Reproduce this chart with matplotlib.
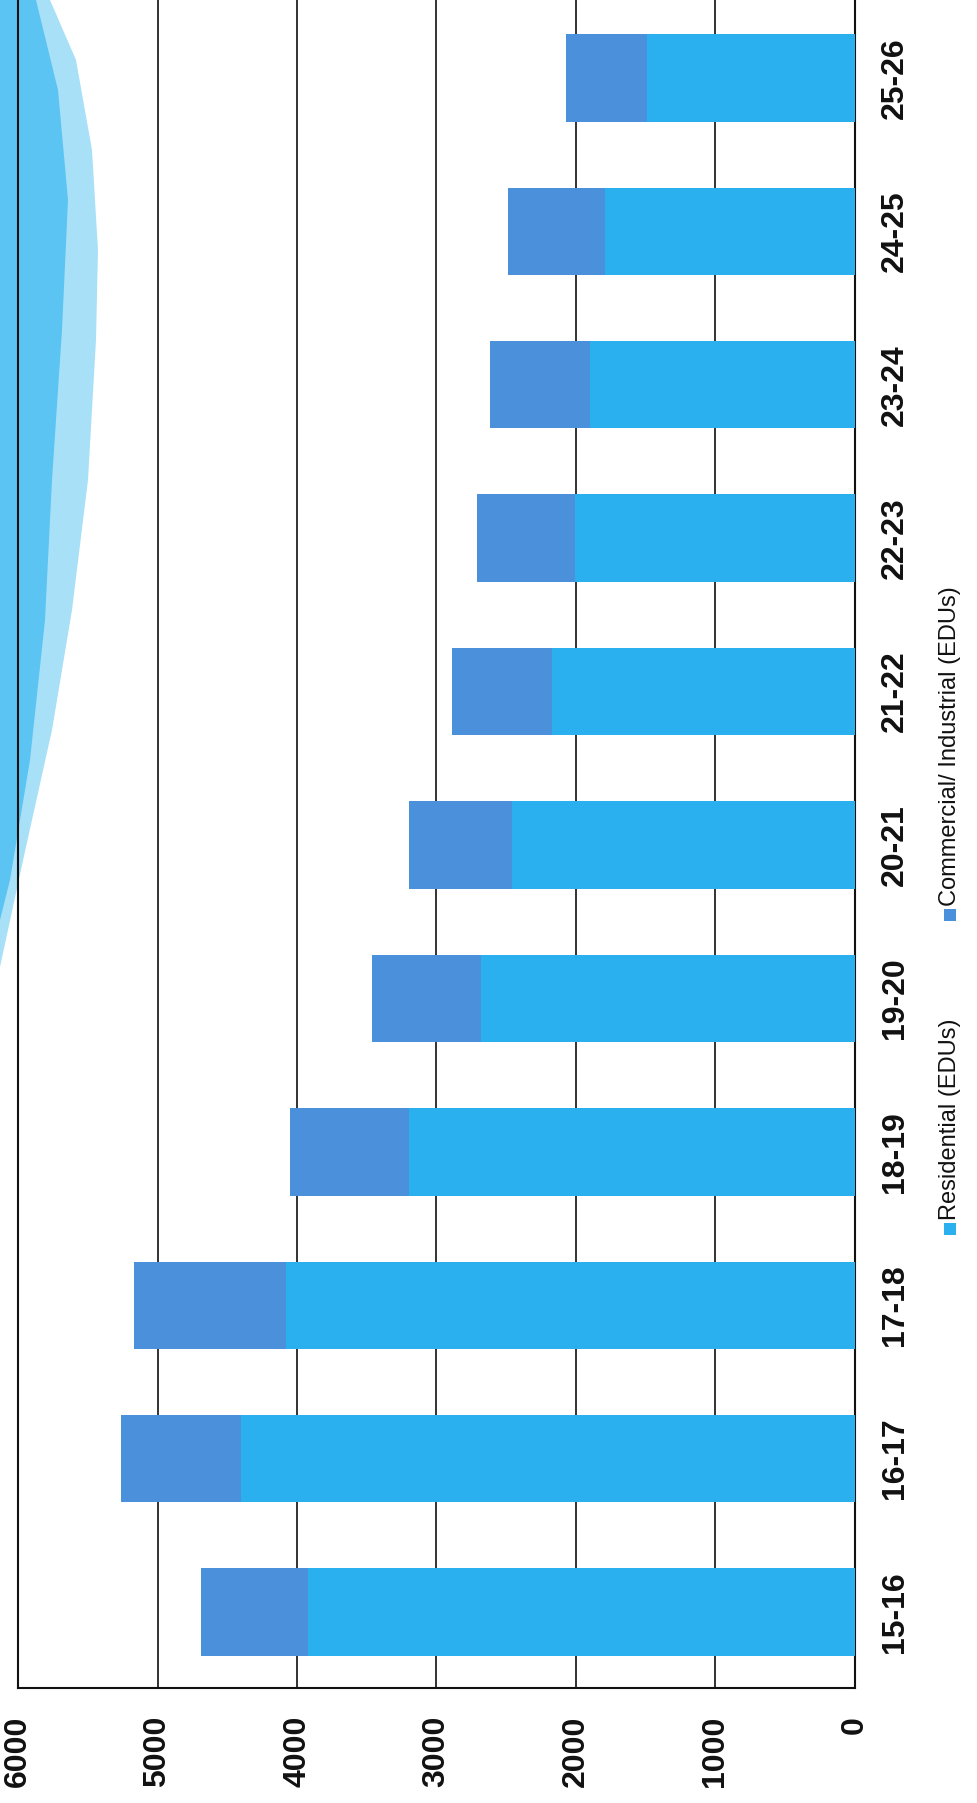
import matplotlib
matplotlib.use('Agg')
import matplotlib.pyplot as plt
from matplotlib.patches import Polygon, Rectangle

plt.rcParams['font.family'] = ['Liberation Sans', 'DejaVu Sans']

# ---- data ----
categories = ['15-16', '16-17', '17-18', '18-19', '19-20', '20-21',
              '21-22', '22-23', '23-24', '24-25', '25-26']
residential = [3920, 4400, 4080, 3200, 2680, 2460, 2170, 2010, 1900, 1790, 1490]
commercial = [770, 860, 1090, 850, 780, 740, 720, 700, 720, 700, 580]
value_ticks = [0, 1000, 2000, 3000, 4000, 5000, 6000]
series_names = ['Residential (EDUs)', 'Commercial/ Industrial (EDUs)']

RES_COLOR = '#2AAFEF'
COM_COLOR = '#4A90DA'

W, H = 978, 1803
fig = plt.figure(figsize=(W / 100, H / 100), dpi=100)
fig.patch.set_facecolor('white')


def fx(px):
    return px / W


def fy(py):
    return 1 - py / H


# decorative swoosh at top-left (slide background)
outer = [(0, 0), (50, 0), (76, 60), (92, 150), (98, 250), (96, 340), (88, 480),
         (72, 610), (52, 730), (22, 865), (0, 967)]
inner = [(0, 0), (36, 0), (58, 90), (68, 200), (62, 330), (52, 480),
         (45, 620), (30, 760), (10, 880), (0, 920)]
fig.add_artist(Polygon([(fx(x), fy(y)) for x, y in outer], closed=True,
                       transform=fig.transFigure, facecolor='#A8E0F8',
                       edgecolor='none', zorder=0))
fig.add_artist(Polygon([(fx(x), fy(y)) for x, y in inner], closed=True,
                       transform=fig.transFigure, facecolor='#5CC4F2',
                       edgecolor='none', zorder=0))

ax_left, ax_right, ax_bottom = 18, 855, 1688
ax = fig.add_axes([fx(ax_left), fy(ax_bottom), fx(ax_right) - fx(ax_left),
                   1 - fy(ax_bottom)])
ax.set_facecolor('none')

ypos = list(range(len(categories)))
ax.barh(ypos, residential, height=0.57, color=RES_COLOR, zorder=3,
        label=series_names[0])
ax.barh(ypos, commercial, left=residential, height=0.57, color=COM_COLOR,
        zorder=3, label=series_names[1])

ax.set_xlim(6000, 0)
ax.set_ylim(-0.495, 10.508)

ax.set_xticks(value_ticks)
ax.set_xticklabels([str(v) for v in value_ticks], rotation=90,
                   fontsize=23, fontweight='bold', color='#111111')
ax.tick_params(axis='x', length=0, pad=20)

ax.yaxis.tick_right()
ax.set_yticks(ypos)
ax.set_yticklabels(categories, rotation=90, fontsize=23, fontweight='bold',
                   color='#111111', va='center')
ax.tick_params(axis='y', length=0, pad=18)

ax.set_axisbelow(True)
ax.xaxis.grid(True, color='#222222', linewidth=1.3, zorder=0)
ax.yaxis.grid(False)

ax.spines['top'].set_visible(False)
for s in ['left', 'bottom', 'right']:
    ax.spines[s].set_color('#111111')
    ax.spines[s].set_linewidth(1.5)

# legend (rotated like the rest of the chart)
leg_x = 950
ax.figure.add_artist(Rectangle((fx(leg_x - 6), fy(1235)), fx(12), 12 / H,
                               transform=fig.transFigure, facecolor=RES_COLOR,
                               edgecolor='none'))
fig.text(fx(leg_x), fy(1220), series_names[0], rotation=90, ha='center',
         va='bottom', fontsize=17, color='#111111')
ax.figure.add_artist(Rectangle((fx(leg_x - 6), fy(921)), fx(12), 12 / H,
                               transform=fig.transFigure, facecolor=COM_COLOR,
                               edgecolor='none'))
fig.text(fx(leg_x), fy(906), series_names[1], rotation=90, ha='center',
         va='bottom', fontsize=17, color='#111111')

fig.savefig('out.png', dpi=100, facecolor='white')
